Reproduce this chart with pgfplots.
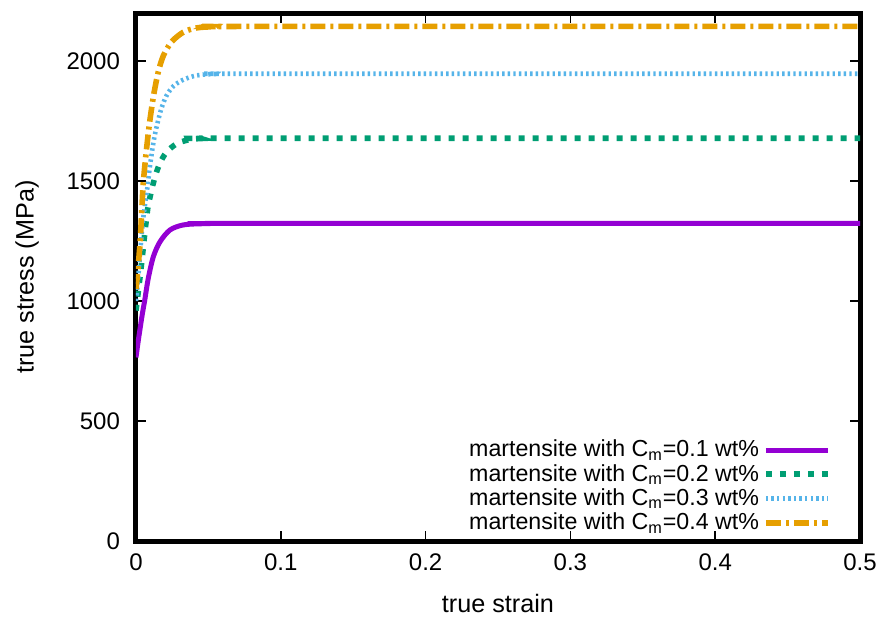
\documentclass[border=0pt]{standalone}
\usepackage{fontspec}
\setmainfont{Liberation Sans}
\usepackage{pgfplots}
\pgfplotsset{compat=1.18}
\definecolor{cviolet}{HTML}{9400D3}
\definecolor{cgreen}{HTML}{009E73}
\definecolor{cblue}{HTML}{56B4E9}
\definecolor{corange}{HTML}{E69F00}
\pgfplotstableread{
x y
0 765
0.001 810
0.002 852
0.003 892
0.004 932
0.005 968
0.006 1002
0.0085 1095
0.012 1185
0.0166 1247
0.0235 1296
0.0327 1317
0.046 1322
0.07 1323
0.5 1323
}\tabA
\pgfplotstableread{
x y
0 960
0.001 1010
0.002 1060
0.003 1110
0.004 1165
0.005 1220
0.0062 1290
0.0074 1350
0.0085 1400
0.0115 1480
0.0138 1530
0.0166 1575
0.021 1620
0.028 1655
0.036 1671
0.045 1677
0.07 1678
0.5 1678
}\tabB
\pgfplotstableread{
x y
0 1000
0.001 1060
0.002 1130
0.003 1210
0.004 1280
0.005 1345
0.0062 1400
0.0074 1450
0.0085 1505
0.0097 1565
0.0115 1640
0.0131 1695
0.0154 1755
0.0177 1805
0.021 1855
0.0258 1895
0.0327 1922
0.042 1940
0.055 1946
0.08 1947
0.5 1947
}\tabC
\pgfplotstableread{
x y
0 1050
0.001 1110
0.002 1180
0.003 1260
0.004 1380
0.005 1490
0.0067 1600
0.0085 1700
0.0101 1775
0.0124 1865
0.0154 1955
0.0189 2022
0.0246 2080
0.0327 2120
0.042 2138
0.055 2143
0.08 2144
0.5 2144
}\tabD
\begin{document}
\begin{tikzpicture}
\useasboundingbox (-68pt,-38.5pt) rectangle (374pt,270.5pt);
\begin{axis}[
  anchor=south west, at={(0,0)},
  scale only axis, width=362pt, height=264pt,
  xmin=0, xmax=0.5, ymin=0, ymax=2200,
  xtick={0,0.1,0.2,0.3,0.4,0.5},
  ytick={0,500,1000,1500,2000},
  /pgf/number format/assume math mode=true,
  /pgf/number format/1000 sep={},
  tick label style={font=\fontsize{12}{14}\selectfont},
  label style={font=\fontsize{12.6}{14}\selectfont},
  xticklabel style={yshift=-3pt},
  yticklabel style={xshift=-4.5pt},
  xlabel={true strain}, ylabel={true stress (MPa)},
  xlabel style={yshift=-4.5pt},
  ylabel style={yshift=7pt},
  axis line style={line width=2.5pt},
  tick align=inside, major tick length=5pt,
  tick style={line width=0.8pt, black},
  legend style={at={(rel axis cs:1,0)}, anchor=south east, xshift=-14.5pt, yshift=2pt,
     draw=none, fill=none, font=\fontsize{11.6}{12.8}\selectfont, row sep=-1.8pt,
     inner sep=0pt},
  legend cell align=right, legend plot pos=right,
  legend image code/.code={\draw[#1] (0pt,0pt) -- (31pt,0pt);},
]
\addplot[cviolet, line width=2.5pt, smooth] table[x=x,y=y]{\tabA};
\addlegendentry{martensite with C\textsubscript{m}=0.1 wt\%}
\addplot[cgreen, line width=2.8pt, dash pattern=on 3pt off 4pt, smooth] table[x=x,y=y]{\tabB};
\addlegendentry{martensite with C\textsubscript{m}=0.2 wt\%}
\addplot[cblue, line width=2.3pt, dash pattern=on 1.2pt off 1.6pt, smooth] table[x=x,y=y]{\tabC};
\addlegendentry{martensite with C\textsubscript{m}=0.3 wt\%}
\addplot[corange, line width=2.8pt, dash pattern=on 7.5pt off 2.5pt on 1.5pt off 2.5pt, smooth] table[x=x,y=y]{\tabD};
\addlegendentry{martensite with C\textsubscript{m}=0.4 wt\%}
\end{axis}
\end{tikzpicture}
\end{document}
